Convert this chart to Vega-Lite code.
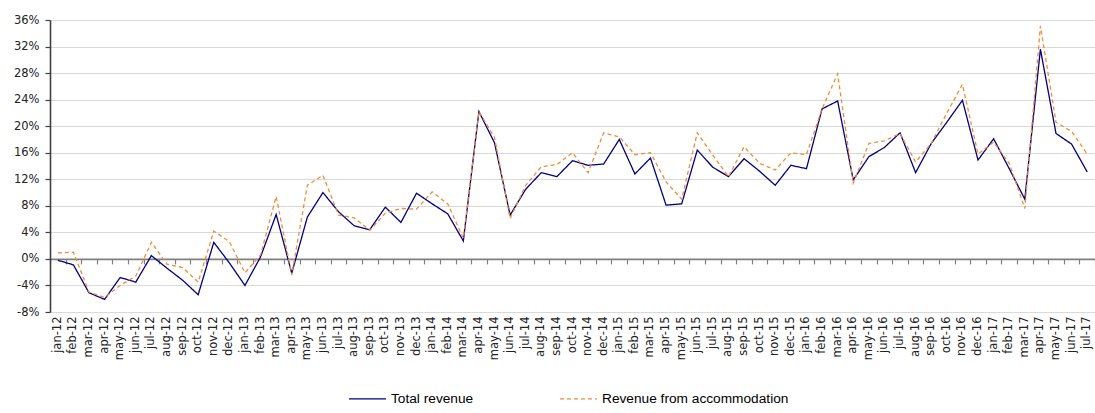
{
  "$schema": "https://vega.github.io/schema/vega-lite/v6.json",
  "width": 1045,
  "height": 292,
  "autosize": {"type": "none"},
  "padding": {"left": 50, "top": 20, "right": 0, "bottom": 101},
  "background": "white",
  "config": {"view": {"stroke": null}},
  "data": {"values": [
    {"month":"jan-12","series":"Total revenue","value":-0.2},{"month":"jan-12","series":"Revenue from accommodation","value":0.9},
    {"month":"feb-12","series":"Total revenue","value":-0.9},{"month":"feb-12","series":"Revenue from accommodation","value":1.0},
    {"month":"mar-12","series":"Total revenue","value":-5.1},{"month":"mar-12","series":"Revenue from accommodation","value":-5.0},
    {"month":"apr-12","series":"Total revenue","value":-6.1},{"month":"apr-12","series":"Revenue from accommodation","value":-5.8},
    {"month":"may-12","series":"Total revenue","value":-2.8},{"month":"may-12","series":"Revenue from accommodation","value":-4.0},
    {"month":"jun-12","series":"Total revenue","value":-3.5},{"month":"jun-12","series":"Revenue from accommodation","value":-2.6},
    {"month":"jul-12","series":"Total revenue","value":0.5},{"month":"jul-12","series":"Revenue from accommodation","value":2.5},
    {"month":"aug-12","series":"Total revenue","value":-1.4},{"month":"aug-12","series":"Revenue from accommodation","value":-0.8},
    {"month":"sep-12","series":"Total revenue","value":-3.2},{"month":"sep-12","series":"Revenue from accommodation","value":-1.3},
    {"month":"oct-12","series":"Total revenue","value":-5.4},{"month":"oct-12","series":"Revenue from accommodation","value":-3.5},
    {"month":"nov-12","series":"Total revenue","value":2.5},{"month":"nov-12","series":"Revenue from accommodation","value":4.2},
    {"month":"dec-12","series":"Total revenue","value":-0.6},{"month":"dec-12","series":"Revenue from accommodation","value":2.6},
    {"month":"jan-13","series":"Total revenue","value":-4.0},{"month":"jan-13","series":"Revenue from accommodation","value":-2.1},
    {"month":"feb-13","series":"Total revenue","value":0.3},{"month":"feb-13","series":"Revenue from accommodation","value":0.6},
    {"month":"mar-13","series":"Total revenue","value":6.7},{"month":"mar-13","series":"Revenue from accommodation","value":9.4},
    {"month":"apr-13","series":"Total revenue","value":-2.15},{"month":"apr-13","series":"Revenue from accommodation","value":-2.4},
    {"month":"may-13","series":"Total revenue","value":6.3},{"month":"may-13","series":"Revenue from accommodation","value":11.1},
    {"month":"jun-13","series":"Total revenue","value":10.0},{"month":"jun-13","series":"Revenue from accommodation","value":12.6},
    {"month":"jul-13","series":"Total revenue","value":7.1},{"month":"jul-13","series":"Revenue from accommodation","value":6.6},
    {"month":"aug-13","series":"Total revenue","value":5.0},{"month":"aug-13","series":"Revenue from accommodation","value":6.2},
    {"month":"sep-13","series":"Total revenue","value":4.4},{"month":"sep-13","series":"Revenue from accommodation","value":4.3},
    {"month":"oct-13","series":"Total revenue","value":7.8},{"month":"oct-13","series":"Revenue from accommodation","value":6.9},
    {"month":"nov-13","series":"Total revenue","value":5.5},{"month":"nov-13","series":"Revenue from accommodation","value":7.6},
    {"month":"dec-13","series":"Total revenue","value":9.9},{"month":"dec-13","series":"Revenue from accommodation","value":7.5},
    {"month":"jan-14","series":"Total revenue","value":8.3},{"month":"jan-14","series":"Revenue from accommodation","value":10.1},
    {"month":"feb-14","series":"Total revenue","value":6.8},{"month":"feb-14","series":"Revenue from accommodation","value":8.3},
    {"month":"mar-14","series":"Total revenue","value":2.7},{"month":"mar-14","series":"Revenue from accommodation","value":3.1},
    {"month":"apr-14","series":"Total revenue","value":22.2},{"month":"apr-14","series":"Revenue from accommodation","value":22.2},
    {"month":"may-14","series":"Total revenue","value":17.5},{"month":"may-14","series":"Revenue from accommodation","value":18.3},
    {"month":"jun-14","series":"Total revenue","value":6.6},{"month":"jun-14","series":"Revenue from accommodation","value":6.1},
    {"month":"jul-14","series":"Total revenue","value":10.5},{"month":"jul-14","series":"Revenue from accommodation","value":11.1},
    {"month":"aug-14","series":"Total revenue","value":13.0},{"month":"aug-14","series":"Revenue from accommodation","value":13.9},
    {"month":"sep-14","series":"Total revenue","value":12.4},{"month":"sep-14","series":"Revenue from accommodation","value":14.2},
    {"month":"oct-14","series":"Total revenue","value":14.8},{"month":"oct-14","series":"Revenue from accommodation","value":16.0},
    {"month":"nov-14","series":"Total revenue","value":14.1},{"month":"nov-14","series":"Revenue from accommodation","value":13.0},
    {"month":"dec-14","series":"Total revenue","value":14.3},{"month":"dec-14","series":"Revenue from accommodation","value":19.0},
    {"month":"jan-15","series":"Total revenue","value":18.0},{"month":"jan-15","series":"Revenue from accommodation","value":18.4},
    {"month":"feb-15","series":"Total revenue","value":12.8},{"month":"feb-15","series":"Revenue from accommodation","value":15.7},
    {"month":"mar-15","series":"Total revenue","value":15.2},{"month":"mar-15","series":"Revenue from accommodation","value":16.0},
    {"month":"apr-15","series":"Total revenue","value":8.1},{"month":"apr-15","series":"Revenue from accommodation","value":11.6},
    {"month":"may-15","series":"Total revenue","value":8.3},{"month":"may-15","series":"Revenue from accommodation","value":9.0},
    {"month":"jun-15","series":"Total revenue","value":16.4},{"month":"jun-15","series":"Revenue from accommodation","value":19.0},
    {"month":"jul-15","series":"Total revenue","value":13.8},{"month":"jul-15","series":"Revenue from accommodation","value":15.6},
    {"month":"aug-15","series":"Total revenue","value":12.4},{"month":"aug-15","series":"Revenue from accommodation","value":12.4},
    {"month":"sep-15","series":"Total revenue","value":15.1},{"month":"sep-15","series":"Revenue from accommodation","value":16.9},
    {"month":"oct-15","series":"Total revenue","value":13.2},{"month":"oct-15","series":"Revenue from accommodation","value":14.4},
    {"month":"nov-15","series":"Total revenue","value":11.1},{"month":"nov-15","series":"Revenue from accommodation","value":13.4},
    {"month":"dec-15","series":"Total revenue","value":14.1},{"month":"dec-15","series":"Revenue from accommodation","value":16.0},
    {"month":"jan-16","series":"Total revenue","value":13.6},{"month":"jan-16","series":"Revenue from accommodation","value":15.7},
    {"month":"feb-16","series":"Total revenue","value":22.6},{"month":"feb-16","series":"Revenue from accommodation","value":22.6},
    {"month":"mar-16","series":"Total revenue","value":23.8},{"month":"mar-16","series":"Revenue from accommodation","value":27.9},
    {"month":"apr-16","series":"Total revenue","value":11.9},{"month":"apr-16","series":"Revenue from accommodation","value":11.4},
    {"month":"may-16","series":"Total revenue","value":15.4},{"month":"may-16","series":"Revenue from accommodation","value":17.4},
    {"month":"jun-16","series":"Total revenue","value":16.8},{"month":"jun-16","series":"Revenue from accommodation","value":17.8},
    {"month":"jul-16","series":"Total revenue","value":19.0},{"month":"jul-16","series":"Revenue from accommodation","value":18.9},
    {"month":"aug-16","series":"Total revenue","value":13.0},{"month":"aug-16","series":"Revenue from accommodation","value":14.6},
    {"month":"sep-16","series":"Total revenue","value":17.4},{"month":"sep-16","series":"Revenue from accommodation","value":17.4},
    {"month":"oct-16","series":"Total revenue","value":20.6},{"month":"oct-16","series":"Revenue from accommodation","value":22.0},
    {"month":"nov-16","series":"Total revenue","value":23.9},{"month":"nov-16","series":"Revenue from accommodation","value":26.3},
    {"month":"dec-16","series":"Total revenue","value":14.9},{"month":"dec-16","series":"Revenue from accommodation","value":15.8},
    {"month":"jan-17","series":"Total revenue","value":18.1},{"month":"jan-17","series":"Revenue from accommodation","value":17.6},
    {"month":"feb-17","series":"Total revenue","value":13.6},{"month":"feb-17","series":"Revenue from accommodation","value":14.4},
    {"month":"mar-17","series":"Total revenue","value":9.0},{"month":"mar-17","series":"Revenue from accommodation","value":7.6},
    {"month":"apr-17","series":"Total revenue","value":31.6},{"month":"apr-17","series":"Revenue from accommodation","value":35.1},
    {"month":"may-17","series":"Total revenue","value":18.9},{"month":"may-17","series":"Revenue from accommodation","value":20.6},
    {"month":"jun-17","series":"Total revenue","value":17.3},{"month":"jun-17","series":"Revenue from accommodation","value":19.2},
    {"month":"jul-17","series":"Total revenue","value":13.1},{"month":"jul-17","series":"Revenue from accommodation","value":15.8}
  ]},
  "encoding": {
    "y": {
      "field": "value", "type": "quantitative",
      "scale": {"domain": [-8, 36], "nice": false, "zero": false},
      "axis": {
        "title": null,
        "values": [-8, -4, 0, 4, 8, 12, 16, 20, 24, 28, 32, 36],
        "labelExpr": "datum.value + '%'",
        "labelFont": "DejaVu Sans", "labelFontSize": 11.5, "labelColor": "#222222",
        "labelPadding": 6,
        "tickSize": 5, "tickColor": "#404040", "tickWidth": 1.2,
        "domainColor": "#404040", "domainWidth": 1.6,
        "gridColor": "#d9d9d9", "gridWidth": 1.2
      }
    }
  },
  "layer": [
    {
      "mark": {"type": "line", "strokeWidth": 1.3, "strokeJoin": "miter"},
      "encoding": {
        "x": {
          "field": "month", "type": "ordinal", "sort": null,
          "scale": {"type": "band", "paddingInner": 0, "paddingOuter": 0},
          "axis": {
            "orient": "bottom", "title": null, "labels": false, "grid": false,
            "offset": -53.09, "tickSize": 5, "tickBand": "extent",
            "tickColor": "#808080", "tickWidth": 1.2,
            "domainColor": "#808080", "domainWidth": 1.6
          }
        },
        "color": {
          "field": "series", "type": "nominal",
          "scale": {"domain": ["Total revenue", "Revenue from accommodation"], "range": ["#000080", "#F28C38"]},
          "legend": {
            "title": null, "orient": "none", "direction": "horizontal",
            "legendX": 298, "legendY": 359, "padding": 0,
            "columnPadding": 83, "symbolType": "stroke", "symbolSize": 1369,
            "symbolStrokeWidth": 1.4, "labelOffset": 4, "labelLimit": 400,
            "labelFont": "Liberation Sans", "labelFontSize": 13.7, "labelColor": "#000000"
          }
        },
        "strokeDash": {
          "field": "series", "type": "nominal",
          "scale": {"domain": ["Total revenue", "Revenue from accommodation"], "range": [[1, 0], [4, 3]]},
          "legend": {
            "title": null, "orient": "none", "direction": "horizontal",
            "legendX": 298, "legendY": 359, "padding": 0,
            "columnPadding": 83, "symbolType": "stroke", "symbolSize": 1369,
            "symbolStrokeWidth": 1.4, "labelOffset": 4, "labelLimit": 400,
            "labelFont": "Liberation Sans", "labelFontSize": 13.7, "labelColor": "#000000"
          }
        }
      }
    },
    {
      "mark": {"type": "point", "opacity": 0},
      "encoding": {
        "x": {
          "field": "month", "type": "ordinal", "sort": null,
          "scale": {"type": "band", "paddingInner": 0, "paddingOuter": 0},
          "axis": {
            "orient": "bottom", "title": null, "grid": false, "ticks": false, "domain": false,
            "labelAngle": -90, "labelAlign": "right", "labelBaseline": "middle",
            "labelPadding": 4, "labelFont": "DejaVu Sans", "labelFontSize": 11.5,
            "labelColor": "#222222", "labelOverlap": false
          }
        }
      }
    }
  ],
  "resolve": {"axis": {"x": "independent"}}
}
